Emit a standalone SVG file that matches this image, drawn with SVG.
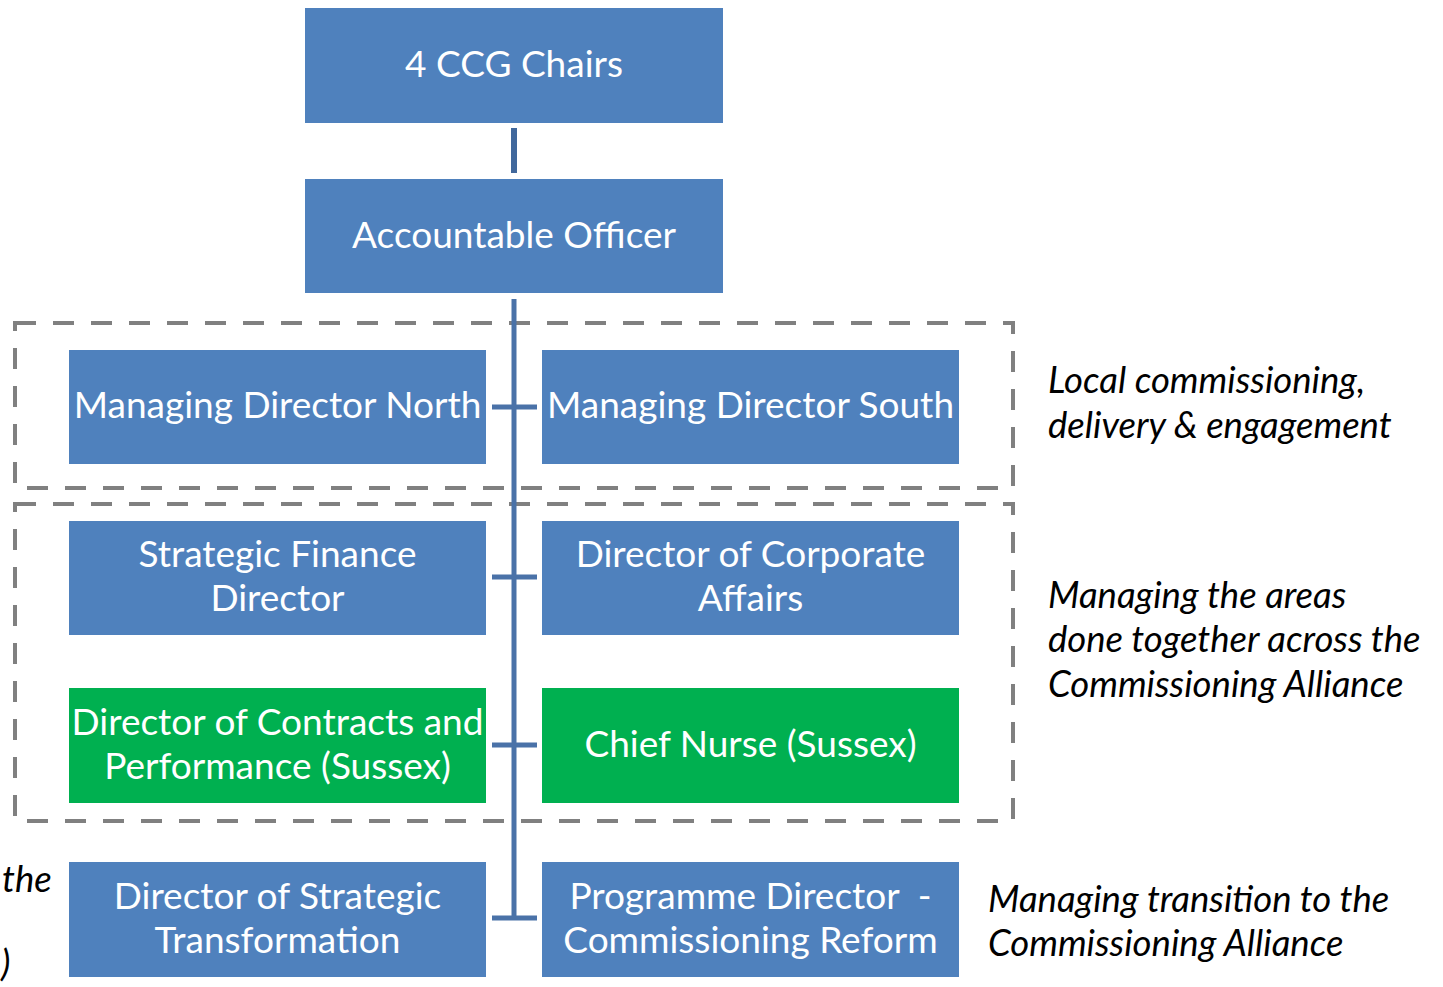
<svg xmlns="http://www.w3.org/2000/svg" width="1443" height="987" viewBox="0 0 1443 987">
  <style>
    .box { fill: #4F81BD; }
    .green { fill: #00B050; }
    .lbl { font-family: Lato, "Open Sans", "Liberation Sans", sans-serif; font-size: 37px; fill: #FFFFFF; text-anchor: middle; }
    .note { font-family: Lato, "Open Sans", "Liberation Sans", sans-serif; font-size: 36.5px; font-style: italic; fill: #000000; }
    .zone { fill: none; stroke: #808080; stroke-width: 4; stroke-dasharray: 21 17; }
    .link { stroke: #4A72A8; stroke-width: 5; fill: none; }
  </style>
  <rect width="1443" height="987" fill="#FFFFFF"/>

  <!-- dashed grouping zones -->
  <g id="zones">
    <rect class="zone" x="15" y="323" width="998" height="165"/>
    <rect class="zone" x="15" y="504" width="998" height="317"/>
  </g>

  <!-- connectors -->
  <g id="connectors">
    <line x1="514" y1="128" x2="514" y2="173" stroke="#41689C" stroke-width="6"/>
    <line class="link" x1="514" y1="299" x2="514" y2="920"/>
    <line class="link" x1="492" y1="407" x2="537" y2="407"/>
    <line class="link" x1="492" y1="577" x2="537" y2="577"/>
    <line class="link" x1="492" y1="745" x2="537" y2="745"/>
    <line class="link" x1="492" y1="918" x2="537" y2="918"/>
  </g>

  <g id="ccg-chairs">
    <rect class="box" x="305" y="8" width="418" height="115"/>
    <text class="lbl" x="514" y="77">4 CCG Chairs</text>
  </g>
  <g id="accountable-officer">
    <rect class="box" x="305" y="179" width="418" height="114"/>
    <text class="lbl" x="514" y="248">Accountable Officer</text>
  </g>
  <g id="md-north">
    <rect class="box" x="69" y="350" width="417" height="114"/>
    <text class="lbl" x="277.5" y="418">Managing Director North</text>
  </g>
  <g id="md-south">
    <rect class="box" x="542" y="350" width="417" height="114"/>
    <text class="lbl" x="750.5" y="418">Managing Director South</text>
  </g>
  <g id="finance-director">
    <rect class="box" x="69" y="521" width="417" height="114"/>
    <text class="lbl" x="277.5" y="567">Strategic Finance</text>
    <text class="lbl" x="277.5" y="611">Director</text>
  </g>
  <g id="corporate-affairs">
    <rect class="box" x="542" y="521" width="417" height="114"/>
    <text class="lbl" x="750.5" y="567">Director of Corporate</text>
    <text class="lbl" x="750.5" y="611">Affairs</text>
  </g>
  <g id="contracts-performance">
    <rect class="green" x="69" y="688" width="417" height="115"/>
    <text class="lbl" x="277.5" y="735">Director of Contracts and</text>
    <text class="lbl" x="277.5" y="779">Performance (Sussex)</text>
  </g>
  <g id="chief-nurse">
    <rect class="green" x="542" y="688" width="417" height="115"/>
    <text class="lbl" x="750.5" y="757">Chief Nurse (Sussex)</text>
  </g>
  <g id="strategic-transformation">
    <rect class="box" x="69" y="862" width="417" height="115"/>
    <text class="lbl" x="277.5" y="909">Director of Strategic</text>
    <text class="lbl" x="277.5" y="953">Transformation</text>
  </g>
  <g id="programme-director">
    <rect class="box" x="542" y="862" width="417" height="115"/>
    <text class="lbl" x="750.5" y="909" xml:space="preserve">Programme Director  -</text>
    <text class="lbl" x="750.5" y="953">Commissioning Reform</text>
  </g>

  <!-- side notes -->
  <g id="notes">
    <text class="note" x="1048" y="393">Local commissioning,</text>
    <text class="note" x="1048" y="438">delivery &amp; engagement</text>
    <text class="note" x="1048" y="608">Managing the areas</text>
    <text class="note" x="1048" y="652">done together across the</text>
    <text class="note" x="1048" y="697">Commissioning Alliance</text>
    <text class="note" x="988" y="912">Managing transition to the</text>
    <text class="note" x="988" y="956">Commissioning Alliance</text>
    <text class="note" x="2" y="892" font-size="34">the</text>
    <text class="note" x="1" y="976" font-size="34">)</text>
  </g>
</svg>
